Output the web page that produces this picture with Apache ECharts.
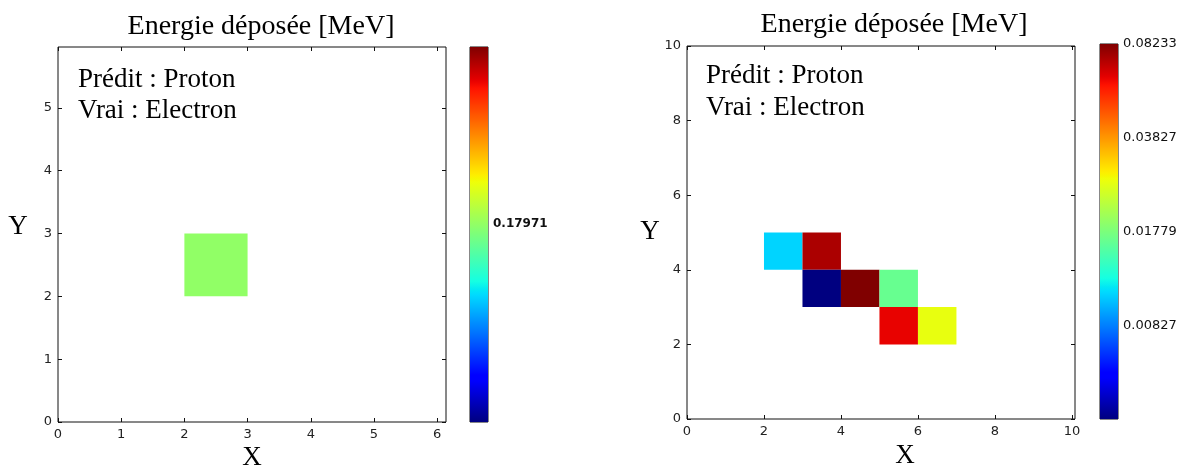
<!DOCTYPE html>
<html>
<head>
<meta charset="utf-8">
<script src="https://cdn.jsdelivr.net/npm/echarts@6/dist/echarts.min.js"></script>
<style>html,body{margin:0;padding:0;background:#fff}#c{width:1184px;height:472px}</style>
</head>
<body>
<div id="c"></div>
<script>
// ---------- data ----------
const TITLE = 'Energie déposée [MeV]';
const NOTE_PRED = 'Prédit : Proton';
const NOTE_TRUE = 'Vrai : Electron';

const LEFT_X_TICKS = [0, 1, 2, 3, 4, 5, 6];
const LEFT_Y_TICKS = [0, 1, 2, 3, 4, 5];
const LEFT_X_MAX = 6.14;
const LEFT_Y_MAX = 5.97;
const LEFT_CELL_X = [2];
const LEFT_CELL_Y = [2];
const LEFT_VALUES = [0.17971];
const LEFT_VMIN = 0.1602;
const LEFT_VMAX = 0.1973;
const LEFT_CBAR_LABEL_POS = [0.529];
const LEFT_CBAR_LABELS = ['0.17971'];
const LEFT_CBAR_TICK_POS = [0.114, 0.247, 0.394, 0.529, 0.668, 0.80, 0.931];

const RIGHT_TICKS = [0, 2, 4, 6, 8, 10];
const RIGHT_X_MAX = 10.08;
const RIGHT_Y_MAX = 10.0;
const RIGHT_CELL_X = [2, 3, 3, 4, 5, 5, 6];
const RIGHT_CELL_Y = [4, 4, 3, 3, 3, 2, 2];
const RIGHT_VALUES = [0.01067, 0.07353, 0.003845, 0.08233, 0.01648, 0.06248, 0.02667];
const RIGHT_VMIN = 0.003845;
const RIGHT_VMAX = 0.08233;
const RIGHT_CBAR_LABEL_POS = [0.25, 0.5, 0.75, 1];
const RIGHT_CBAR_LABELS = ['0.00827', '0.01779', '0.03827', '0.08233'];
const RIGHT_CBAR_TICK_POS = [0.25, 0.5, 0.75];

// ---------- jet colormap ----------
const JET_R = [[0, 0], [0.35, 0], [0.66, 1], [0.89, 1], [1, 0.5]];
const JET_G = [[0, 0], [0.125, 0], [0.375, 1], [0.64, 1], [0.91, 0], [1, 0]];
const JET_B = [[0, 0.5], [0.11, 1], [0.34, 1], [0.65, 0], [1, 0]];
function seg(pts, t) {
  for (let i = 1; i < pts.length; i++) {
    if (t <= pts[i][0]) {
      const a = pts[i - 1], b = pts[i];
      return a[1] + (b[1] - a[1]) * (t - a[0]) / (b[0] - a[0]);
    }
  }
  return pts[pts.length - 1][1];
}
function jet(t) {
  const h = v => Math.round(v * 255).toString(16).padStart(2, '0');
  return '#' + h(seg(JET_R, t)) + h(seg(JET_G, t)) + h(seg(JET_B, t));
}
const JET_COLORS = [];
const JET_STOPS = [];
for (let i = 0; i <= 128; i++) {
  const t = i / 128;
  JET_COLORS.push(jet(t));
  JET_STOPS.push({ offset: t, color: jet(t) });
}

const leftData = LEFT_VALUES.map((v, i) => [LEFT_CELL_X[i], LEFT_CELL_Y[i], v]);
const rightData = RIGHT_VALUES.map((v, i) => [RIGHT_CELL_X[i], RIGHT_CELL_Y[i], v, Math.log10(v)]);

// ---------- rendering helpers ----------
function cellRender(params, api) {
  const x = api.value(0), y = api.value(1);
  const a = api.coord([x, y + 1]), b = api.coord([x + 1, y]);
  return {
    type: 'rect',
    shape: { x: a[0], y: a[1], width: b[0] - a[0], height: b[1] - a[1] },
    style: { fill: api.visual('color') }
  };
}
function cbarRender(params, api) {
  const a = api.coord([0, 1]), b = api.coord([1, 0]);
  return {
    type: 'rect',
    shape: { x: a[0], y: a[1], width: b[0] - a[0], height: b[1] - a[1] },
    style: { fill: new echarts.graphic.LinearGradient(0, 1, 0, 0, JET_STOPS) }
  };
}

const TICK_FONT = { fontFamily: 'DejaVu Sans', fontSize: 13, color: '#222' };
const gridStyle = { show: true, borderColor: '#111', borderWidth: 1, backgroundColor: 'transparent' };

function mainAxis(grid, max, ticks, pos, showLabel) {
  return {
    type: 'value', gridIndex: grid, min: 0, max: max, position: pos,
    axisLine: { show: false, onZero: false }, splitLine: { show: false },
    axisTick: { show: true, inside: true, length: 4, customValues: ticks, lineStyle: { color: '#111' } },
    axisLabel: Object.assign({ show: showLabel, margin: 6, customValues: ticks, formatter: v => String(v) }, TICK_FONT)
  };
}
function cbarX(grid) {
  return { type: 'value', gridIndex: grid, min: 0, max: 1, show: false, axisLine: { onZero: false } };
}
function cbarY(grid, labelPos, labels, tickPos, bold) {
  return {
    type: 'value', gridIndex: grid, min: 0, max: 1, position: 'right',
    axisLine: { show: false, onZero: false }, splitLine: { show: false },
    axisTick: { show: true, inside: true, length: 4, customValues: tickPos, lineStyle: { color: '#111' } },
    axisLabel: {
      show: true, margin: 5, customValues: labelPos,
      fontFamily: 'DejaVu Sans', fontSize: bold ? 12 : 13, fontWeight: bold ? 'bold' : 'normal', color: '#111',
      formatter: v => {
        let best = 0;
        for (let i = 0; i < labelPos.length; i++) if (Math.abs(labelPos[i] - v) < Math.abs(labelPos[best] - v)) best = i;
        return labels[best];
      }
    }
  };
}

function txt(x, y, text, size, align) {
  return {
    type: 'text', x: x, y: y, silent: true,
    style: { text: text, font: size + 'px "Liberation Serif"', fill: '#000', align: align || 'center', verticalAlign: 'middle' }
  };
}

const chart = echarts.init(document.getElementById('c'), null, { renderer: 'canvas' });
chart.setOption({
  animation: false,
  backgroundColor: '#fff',
  grid: [
    Object.assign({ left: 58, top: 47, width: 388, height: 375 }, gridStyle),
    Object.assign({ left: 687, top: 46, width: 388, height: 373 }, gridStyle),
    Object.assign({ left: 470, top: 47, width: 18, height: 375 }, gridStyle),
    Object.assign({ left: 1100, top: 44, width: 18, height: 375 }, gridStyle)
  ],
  xAxis: [
    mainAxis(0, LEFT_X_MAX, LEFT_X_TICKS, 'bottom', true),
    mainAxis(0, LEFT_X_MAX, LEFT_X_TICKS, 'top', false),
    mainAxis(1, RIGHT_X_MAX, RIGHT_TICKS, 'bottom', true),
    mainAxis(1, RIGHT_X_MAX, RIGHT_TICKS, 'top', false),
    cbarX(2),
    cbarX(3)
  ],
  yAxis: [
    mainAxis(0, LEFT_Y_MAX, LEFT_Y_TICKS, 'left', true),
    mainAxis(0, LEFT_Y_MAX, LEFT_Y_TICKS, 'right', false),
    mainAxis(1, RIGHT_Y_MAX, RIGHT_TICKS, 'left', true),
    mainAxis(1, RIGHT_Y_MAX, RIGHT_TICKS, 'right', false),
    cbarY(2, LEFT_CBAR_LABEL_POS, LEFT_CBAR_LABELS, LEFT_CBAR_TICK_POS, true),
    cbarY(3, RIGHT_CBAR_LABEL_POS, RIGHT_CBAR_LABELS, RIGHT_CBAR_TICK_POS, false)
  ],
  visualMap: [
    { type: 'continuous', show: false, seriesIndex: 0, dimension: 2, min: LEFT_VMIN, max: LEFT_VMAX, inRange: { color: JET_COLORS } },
    { type: 'continuous', show: false, seriesIndex: 1, dimension: 3, min: Math.log10(RIGHT_VMIN), max: Math.log10(RIGHT_VMAX), inRange: { color: JET_COLORS } }
  ],
  series: [
    { type: 'custom', xAxisIndex: 0, yAxisIndex: 0, renderItem: cellRender, data: leftData, encode: { x: 0, y: 1 }, clip: true },
    { type: 'custom', xAxisIndex: 2, yAxisIndex: 2, renderItem: cellRender, data: rightData, encode: { x: 0, y: 1 }, clip: true },
    { type: 'custom', xAxisIndex: 4, yAxisIndex: 4, renderItem: cbarRender, data: [[0, 0]], encode: { x: 0, y: 1 } },
    { type: 'custom', xAxisIndex: 5, yAxisIndex: 5, renderItem: cbarRender, data: [[0, 0]], encode: { x: 0, y: 1 } }
  ],
  graphic: [
    txt(261, 27, TITLE, 28),
    txt(894, 25, TITLE, 28),
    txt(78, 80, NOTE_PRED, 27, 'left'),
    txt(78, 111, NOTE_TRUE, 27, 'left'),
    txt(706, 76, NOTE_PRED, 27, 'left'),
    txt(706, 108, NOTE_TRUE, 27, 'left'),
    txt(252, 458, 'X', 27),
    txt(905, 456, 'X', 27),
    txt(18, 227, 'Y', 27),
    txt(650, 232, 'Y', 27)
  ]
});
</script>
</body>
</html>
